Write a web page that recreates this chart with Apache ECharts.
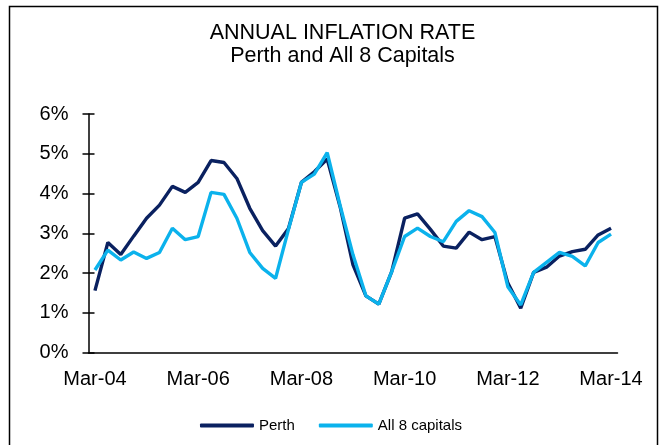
<!DOCTYPE html>
<html>
<head>
<meta charset="utf-8">
<script src="https://cdn.jsdelivr.net/npm/echarts@6/dist/echarts.min.js"></script>
<style>
html,body{margin:0;padding:0;background:#fff;}
#chart{width:662px;height:445px;}
</style>
</head>
<body>
<div id="chart"></div>
<script>
const categories = (function(){
  const m = ['Mar','Jun','Sep','Dec'];
  const out = [];
  for (let y = 4; y <= 14; y++) {
    for (let q = 0; q < 4; q++) {
      if (y === 14 && q > 0) break;
      out.push(m[q] + '-' + String(y).padStart(2,'0'));
    }
  }
  return out;
})();

const perth = [1.56,2.77,2.47,2.93,3.38,3.71,4.18,4.03,4.28,4.83,4.78,4.38,3.63,3.07,2.68,3.12,4.28,4.55,4.87,3.67,2.21,1.43,1.22,2.04,3.38,3.49,3.10,2.68,2.63,3.03,2.84,2.92,1.75,1.12,2.02,2.15,2.43,2.54,2.60,2.96,3.13];
const capitals = [2.08,2.58,2.33,2.53,2.37,2.52,3.13,2.84,2.92,4.03,3.98,3.38,2.52,2.12,1.87,3.10,4.28,4.49,5.03,3.70,2.46,1.43,1.22,2.04,2.92,3.13,2.92,2.79,3.30,3.57,3.42,3.02,1.66,1.20,2.02,2.27,2.52,2.42,2.18,2.77,2.98];

const titleLines = ['ANNUAL INFLATION RATE','Perth and All 8 Capitals'];
const seriesNames = ['Perth','All 8 capitals'];

const chart = echarts.init(document.getElementById('chart'), null, {renderer:'canvas'});
const font = 'Liberation Sans, Arial, sans-serif';
const titleStyle = {fontFamily:font,fontSize:21.5,fontWeight:'normal',fill:'#000',textAlign:'center',textVerticalAlign:'middle'};
chart.setOption({
  animation:false,
  backgroundColor:'#fff',
  legend:{
    data:seriesNames, left:'center', top:413, icon:'roundRect',
    itemWidth:54, itemHeight:4, itemGap:24,
    textStyle:{fontFamily:font,fontSize:15,color:'#000'}
  },
  grid:{left:88.5,right:44.5,top:114,bottom:92.3},
  graphic:[{
    type:'rect', shape:{x:9.5,y:6.5,width:648,height:460},
    style:{fill:'none',stroke:'#000',lineWidth:1.5}, silent:true
  },{
    type:'text', x:342.5, y:33, silent:true,
    style:Object.assign({text:titleLines[0]}, titleStyle)
  },{
    type:'text', x:342.5, y:56.5, silent:true,
    style:Object.assign({text:titleLines[1]}, titleStyle)
  }],
  xAxis:{
    type:'category', data:categories, boundaryGap:true,
    axisLine:{lineStyle:{color:'#000',width:1.5}},
    axisTick:{interval:1,length:5,lineStyle:{color:'#000',width:1.5}},
    axisLabel:{interval:7,margin:17,fontFamily:font,fontSize:20,color:'#000'},
    splitLine:{show:false}
  },
  yAxis:[{
    type:'value', min:0, max:6, interval:1,
    axisLine:{show:true,lineStyle:{color:'#000',width:1.5}},
    axisTick:{show:true,length:6,lineStyle:{color:'#000',width:1.5}},
    axisLabel:{formatter:'{value}%',margin:20,fontFamily:font,fontSize:20,color:'#000'},
    splitLine:{show:false}
  },{
    type:'value', min:0, max:6, interval:1, position:'left',
    axisLine:{show:false},
    axisTick:{show:true,inside:true,length:6,lineStyle:{color:'#000',width:1.5}},
    axisLabel:{show:false},
    splitLine:{show:false}
  }],
  series:[
    {name:seriesNames[0],type:'line',data:perth,symbol:'none',
     lineStyle:{color:'#0a2160',width:3.4},itemStyle:{color:'#0a2160'},z:2},
    {name:seriesNames[1],type:'line',data:capitals,symbol:'none',
     lineStyle:{color:'#0bb2ec',width:3.4},itemStyle:{color:'#0bb2ec'},z:3}
  ]
});
</script>
</body>
</html>
